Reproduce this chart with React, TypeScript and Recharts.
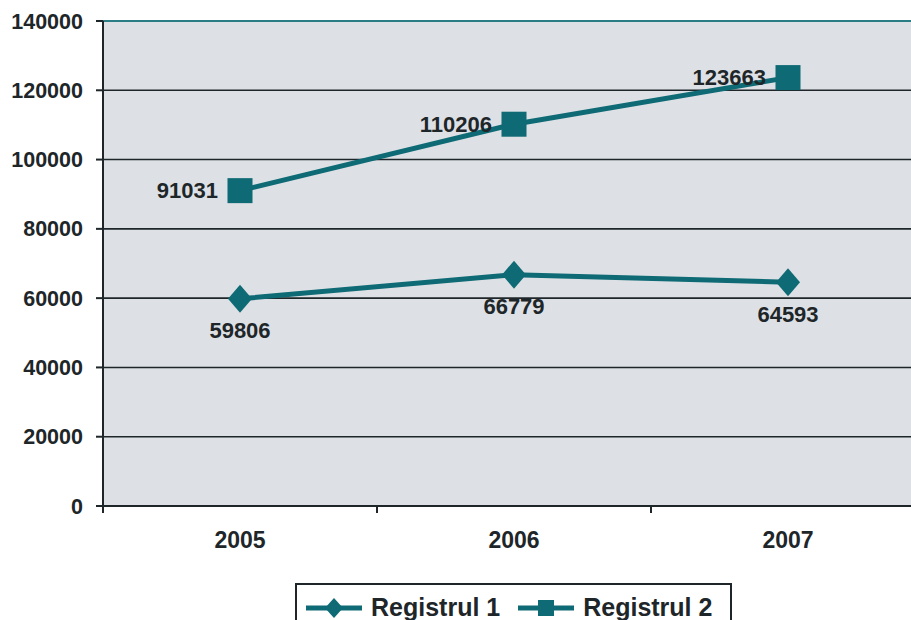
import { LineChart, Line, XAxis, YAxis, CartesianGrid, LabelList, ReferenceLine } from "recharts";

const years = ["2005", "2006", "2007"];
const registrul1 = [59806, 66779, 64593];
const registrul2 = [91031, 110206, 123663];
const yTicks = [0, 20000, 40000, 60000, 80000, 100000, 120000, 140000];

const data = years.map((year, i) => ({
  year,
  r1: registrul1[i],
  r2: registrul2[i],
}));

const TEAL = "#0e6a74";
const INK = "#1e2629";
const FONT = "'Liberation Sans', Arial, sans-serif";
const HALF_BAND = 137;

function Diamond(props: any) {
  const { cx, cy } = props;
  if (cx == null || cy == null) return null;
  return (
    <polygon
      points={`${cx},${cy - 14} ${cx + 12},${cy} ${cx},${cy + 14} ${cx - 12},${cy}`}
      fill={TEAL}
    />
  );
}

function Square(props: any) {
  const { cx, cy } = props;
  if (cx == null || cy == null) return null;
  return <rect x={cx - 12.5} y={cy - 12.5} width={25} height={25} fill={TEAL} />;
}

function YearTick(props: any) {
  const { x, y, payload } = props;
  return (
    <g>
      <line x1={x - HALF_BAND} x2={x - HALF_BAND} y1={y - 7} y2={y} stroke={INK} strokeWidth={2} />
      <line x1={x + HALF_BAND} x2={x + HALF_BAND} y1={y - 7} y2={y} stroke={TEAL} strokeWidth={2} />
      <text x={x} y={y + 35} textAnchor="middle" fontFamily={FONT} fontWeight="bold" fontSize={23} fill={INK}>
        {payload.value}
      </text>
    </g>
  );
}

function LegendIcon({ kind }: { kind: "diamond" | "square" }) {
  return (
    <svg width={56} height={20} style={{ marginRight: 9 }}>
      <line x1={0} x2={56} y1={10} y2={10} stroke={TEAL} strokeWidth={5} />
      {kind === "diamond" ? (
        <polygon points="28,0 37,10 28,20 19,10" fill={TEAL} />
      ) : (
        <rect x={20} y={2} width={16} height={16} fill={TEAL} />
      )}
    </svg>
  );
}

export default function App() {
  return (
    <div
      style={{
        position: "fixed",
        left: 0,
        top: 0,
        width: 911,
        height: 620,
        overflow: "hidden",
        background: "#ffffff",
      }}
    >
      <LineChart width={925} height={620} data={data} margin={{ top: 21, right: 0, left: 0, bottom: 0 }}>
        <CartesianGrid fill="#dde1e5" vertical={false} stroke={INK} strokeWidth={1.6} strokeOpacity={1} />
        <ReferenceLine y={140000} stroke="#2a7d85" strokeWidth={2} />
        <XAxis
          dataKey="year"
          padding={{ left: HALF_BAND, right: HALF_BAND }}
          height={114}
          tickSize={7}
          tickMargin={0}
          tickLine={false}
          axisLine={{ stroke: INK, strokeWidth: 2 }}
          tick={<YearTick />}
          interval={0}
        />
        <YAxis
          width={103}
          domain={[0, 140000]}
          ticks={yTicks}
          interval={0}
          tickSize={7}
          tickMargin={13}
          axisLine={{ stroke: INK, strokeWidth: 2 }}
          tickLine={{ stroke: INK, strokeWidth: 2 }}
          tick={{ fontFamily: FONT, fontWeight: "bold", fontSize: 21.5, fill: INK }}
        />
        <Line
          dataKey="r1"
          name="Registrul 1"
          stroke={TEAL}
          strokeWidth={5}
          dot={<Diamond />}
          activeDot={false}
          isAnimationActive={false}
        >
          <LabelList
            dataKey="r1"
            position="bottom"
            offset={24}
            fontFamily={FONT}
            fontWeight="bold"
            fontSize={22}
            fill={INK}
          />
        </Line>
        <Line
          dataKey="r2"
          name="Registrul 2"
          stroke={TEAL}
          strokeWidth={5}
          dot={<Square />}
          activeDot={false}
          isAnimationActive={false}
        >
          <LabelList
            dataKey="r2"
            position="left"
            offset={22}
            fontFamily={FONT}
            fontWeight="bold"
            fontSize={22}
            fill={INK}
          />
        </Line>
      </LineChart>
      <div
        style={{
          position: "absolute",
          left: 295,
          top: 583,
          width: 437,
          height: 50,
          border: `2px solid ${INK}`,
          background: "#ffffff",
          display: "flex",
          alignItems: "flex-start",
          paddingTop: 8,
          paddingLeft: 9,
          boxSizing: "border-box",
          fontFamily: FONT,
          fontWeight: "bold",
          fontSize: 25,
          color: INK,
        }}
      >
        <span style={{ display: "flex", alignItems: "center", marginRight: 18 }}>
          <LegendIcon kind="diamond" />
          Registrul 1
        </span>
        <span style={{ display: "flex", alignItems: "center" }}>
          <LegendIcon kind="square" />
          Registrul 2
        </span>
      </div>
    </div>
  );
}
